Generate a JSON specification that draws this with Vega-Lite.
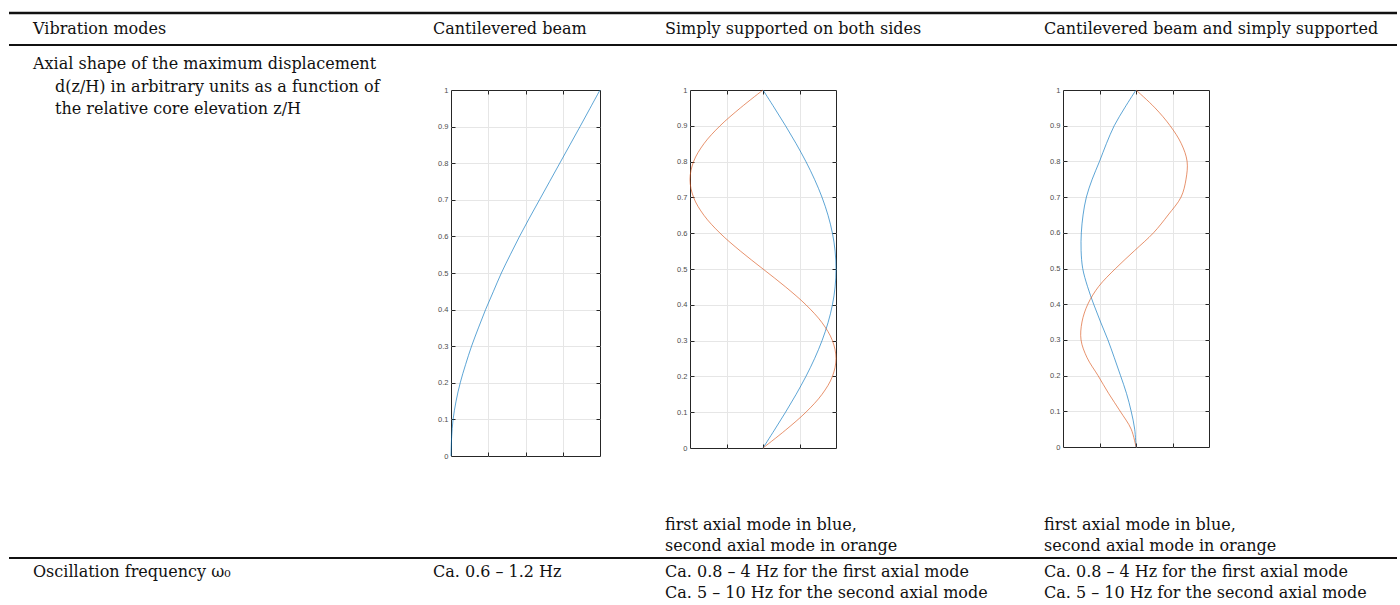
{
  "$schema": "https://vega.github.io/schema/vega-lite/v6.json",
  "background": "white",
  "padding": {"left": 7, "top": 11, "right": 5, "bottom": 0},
  "config": {"view": {"stroke": null}, "axis": {"title": null}},
  "columns": 10,
  "bounds": "flush",
  "align": "each",
  "spacing": 0,
  "datasets": {
    "e": [{}],
    "c1": [
      {"z":0,"d":0,"m":"first"},{"z":0.05,"d":0.004,"m":"first"},{"z":0.1,"d":0.014,"m":"first"},{"z":0.15,"d":0.034,"m":"first"},{"z":0.2,"d":0.062,"m":"first"},{"z":0.25,"d":0.098,"m":"first"},{"z":0.3,"d":0.138,"m":"first"},{"z":0.35,"d":0.184,"m":"first"},{"z":0.4,"d":0.232,"m":"first"},{"z":0.45,"d":0.285,"m":"first"},{"z":0.5,"d":0.338,"m":"first"},{"z":0.55,"d":0.398,"m":"first"},{"z":0.6,"d":0.46,"m":"first"},{"z":0.65,"d":0.526,"m":"first"},{"z":0.7,"d":0.594,"m":"first"},{"z":0.75,"d":0.662,"m":"first"},{"z":0.8,"d":0.73,"m":"first"},{"z":0.85,"d":0.798,"m":"first"},{"z":0.9,"d":0.866,"m":"first"},{"z":0.95,"d":0.933,"m":"first"},{"z":1,"d":1,"m":"first"}
    ],
    "c2": [
      {"z":0,"d":0,"m":"first"},{"z":0.05,"d":0.156,"m":"first"},{"z":0.1,"d":0.309,"m":"first"},{"z":0.15,"d":0.454,"m":"first"},{"z":0.2,"d":0.588,"m":"first"},{"z":0.25,"d":0.707,"m":"first"},{"z":0.3,"d":0.809,"m":"first"},{"z":0.35,"d":0.891,"m":"first"},{"z":0.4,"d":0.951,"m":"first"},{"z":0.45,"d":0.988,"m":"first"},{"z":0.5,"d":1,"m":"first"},{"z":0.55,"d":0.988,"m":"first"},{"z":0.6,"d":0.951,"m":"first"},{"z":0.65,"d":0.891,"m":"first"},{"z":0.7,"d":0.809,"m":"first"},{"z":0.75,"d":0.707,"m":"first"},{"z":0.8,"d":0.588,"m":"first"},{"z":0.85,"d":0.454,"m":"first"},{"z":0.9,"d":0.309,"m":"first"},{"z":0.95,"d":0.156,"m":"first"},{"z":1,"d":0,"m":"first"},
      {"z":0,"d":0,"m":"second"},{"z":0.05,"d":0.309,"m":"second"},{"z":0.1,"d":0.588,"m":"second"},{"z":0.15,"d":0.809,"m":"second"},{"z":0.2,"d":0.951,"m":"second"},{"z":0.25,"d":1,"m":"second"},{"z":0.3,"d":0.951,"m":"second"},{"z":0.35,"d":0.809,"m":"second"},{"z":0.4,"d":0.588,"m":"second"},{"z":0.45,"d":0.309,"m":"second"},{"z":0.5,"d":0,"m":"second"},{"z":0.55,"d":-0.309,"m":"second"},{"z":0.6,"d":-0.588,"m":"second"},{"z":0.65,"d":-0.809,"m":"second"},{"z":0.7,"d":-0.951,"m":"second"},{"z":0.75,"d":-1,"m":"second"},{"z":0.8,"d":-0.951,"m":"second"},{"z":0.85,"d":-0.809,"m":"second"},{"z":0.9,"d":-0.588,"m":"second"},{"z":0.95,"d":-0.309,"m":"second"},{"z":1,"d":0,"m":"second"}
    ],
    "c3": [
      {"z":0,"d":0,"m":"first"},{"z":0.05,"d":-0.018,"m":"first"},{"z":0.1,"d":-0.066,"m":"first"},{"z":0.15,"d":-0.13,"m":"first"},{"z":0.2,"d":-0.212,"m":"first"},{"z":0.25,"d":-0.297,"m":"first"},{"z":0.3,"d":-0.385,"m":"first"},{"z":0.35,"d":-0.485,"m":"first"},{"z":0.4,"d":-0.58,"m":"first"},{"z":0.45,"d":-0.665,"m":"first"},{"z":0.5,"d":-0.73,"m":"first"},{"z":0.55,"d":-0.752,"m":"first"},{"z":0.6,"d":-0.749,"m":"first"},{"z":0.65,"d":-0.725,"m":"first"},{"z":0.7,"d":-0.68,"m":"first"},{"z":0.75,"d":-0.6,"m":"first"},{"z":0.8,"d":-0.5,"m":"first"},{"z":0.85,"d":-0.405,"m":"first"},{"z":0.9,"d":-0.298,"m":"first"},{"z":0.95,"d":-0.155,"m":"first"},{"z":1,"d":0,"m":"first"},
      {"z":0,"d":0,"m":"second"},{"z":0.05,"d":-0.066,"m":"second"},{"z":0.1,"d":-0.216,"m":"second"},{"z":0.15,"d":-0.375,"m":"second"},{"z":0.2,"d":-0.52,"m":"second"},{"z":0.25,"d":-0.67,"m":"second"},{"z":0.3,"d":-0.753,"m":"second"},{"z":0.35,"d":-0.74,"m":"second"},{"z":0.4,"d":-0.66,"m":"second"},{"z":0.45,"d":-0.51,"m":"second"},{"z":0.5,"d":-0.28,"m":"second"},{"z":0.55,"d":-0.02,"m":"second"},{"z":0.6,"d":0.24,"m":"second"},{"z":0.65,"d":0.44,"m":"second"},{"z":0.7,"d":0.617,"m":"second"},{"z":0.75,"d":0.685,"m":"second"},{"z":0.8,"d":0.7,"m":"second"},{"z":0.85,"d":0.62,"m":"second"},{"z":0.9,"d":0.467,"m":"second"},{"z":0.95,"d":0.26,"m":"second"},{"z":1,"d":0,"m":"second"}
    ]
  },
  "concat": [
    {"width": 417, "height": 32, "data": {"values": [{"t": "Vibration modes"}]}, "layer": [
      {"mark": {"type": "rule", "strokeWidth": 2.5, "color": "#111"}, "encoding": {"y": {"datum": 1, "type": "quantitative", "scale": {"domain": [0, 1]}, "axis": null}}},
      {"mark": {"type": "rule", "strokeWidth": 2, "color": "#111"}, "encoding": {"y": {"datum": 0, "type": "quantitative", "scale": {"domain": [0, 1]}, "axis": null}}},
      {"mark": {"type": "text", "align": "left", "baseline": "middle", "dx": 24, "font": "DejaVu Serif", "fontSize": 16, "color": "#111"}, "encoding": {"x": {"datum": 0, "type": "quantitative", "scale": {"domain": [0, 1]}, "axis": null}, "y": {"datum": 0.5, "type": "quantitative", "scale": {"domain": [0, 1]}, "axis": null}, "text": {"field": "t"}}}]},
    {"width": 25, "height": 32, "data": {"values": [{"t": "Cantilevered beam"}]}, "layer": [
      {"mark": {"type": "rule", "strokeWidth": 2.5, "color": "#111"}, "encoding": {"y": {"datum": 1, "type": "quantitative", "scale": {"domain": [0, 1]}, "axis": null}}},
      {"mark": {"type": "rule", "strokeWidth": 2, "color": "#111"}, "encoding": {"y": {"datum": 0, "type": "quantitative", "scale": {"domain": [0, 1]}, "axis": null}}},
      {"mark": {"type": "text", "align": "left", "baseline": "middle", "dx": 7, "font": "DejaVu Serif", "fontSize": 16, "color": "#111"}, "encoding": {"x": {"datum": 0, "type": "quantitative", "scale": {"domain": [0, 1]}, "axis": null}, "y": {"datum": 0.5, "type": "quantitative", "scale": {"domain": [0, 1]}, "axis": null}, "text": {"field": "t"}}}]},
    {"width": 149, "height": 32, "data": {"name": "e"}, "layer": [
      {"mark": {"type": "rule", "strokeWidth": 2.5, "color": "#111"}, "encoding": {"y": {"datum": 1, "type": "quantitative", "scale": {"domain": [0, 1]}, "axis": null}}},
      {"mark": {"type": "rule", "strokeWidth": 2, "color": "#111"}, "encoding": {"y": {"datum": 0, "type": "quantitative", "scale": {"domain": [0, 1]}, "axis": null}}}]},
    {"width": 58, "height": 32, "data": {"name": "e"}, "layer": [
      {"mark": {"type": "rule", "strokeWidth": 2.5, "color": "#111"}, "encoding": {"y": {"datum": 1, "type": "quantitative", "scale": {"domain": [0, 1]}, "axis": null}}},
      {"mark": {"type": "rule", "strokeWidth": 2, "color": "#111"}, "encoding": {"y": {"datum": 0, "type": "quantitative", "scale": {"domain": [0, 1]}, "axis": null}}}]},
    {"width": 32, "height": 32, "data": {"values": [{"t": "Simply supported on both sides"}]}, "layer": [
      {"mark": {"type": "rule", "strokeWidth": 2.5, "color": "#111"}, "encoding": {"y": {"datum": 1, "type": "quantitative", "scale": {"domain": [0, 1]}, "axis": null}}},
      {"mark": {"type": "rule", "strokeWidth": 2, "color": "#111"}, "encoding": {"y": {"datum": 0, "type": "quantitative", "scale": {"domain": [0, 1]}, "axis": null}}},
      {"mark": {"type": "text", "align": "left", "baseline": "middle", "dx": 7, "font": "DejaVu Serif", "fontSize": 16, "color": "#111"}, "encoding": {"x": {"datum": 0, "type": "quantitative", "scale": {"domain": [0, 1]}, "axis": null}, "y": {"datum": 0.5, "type": "quantitative", "scale": {"domain": [0, 1]}, "axis": null}, "text": {"field": "t"}}}]},
    {"width": 146, "height": 32, "data": {"name": "e"}, "layer": [
      {"mark": {"type": "rule", "strokeWidth": 2.5, "color": "#111"}, "encoding": {"y": {"datum": 1, "type": "quantitative", "scale": {"domain": [0, 1]}, "axis": null}}},
      {"mark": {"type": "rule", "strokeWidth": 2, "color": "#111"}, "encoding": {"y": {"datum": 0, "type": "quantitative", "scale": {"domain": [0, 1]}, "axis": null}}}]},
    {"width": 201, "height": 32, "data": {"name": "e"}, "layer": [
      {"mark": {"type": "rule", "strokeWidth": 2.5, "color": "#111"}, "encoding": {"y": {"datum": 1, "type": "quantitative", "scale": {"domain": [0, 1]}, "axis": null}}},
      {"mark": {"type": "rule", "strokeWidth": 2, "color": "#111"}, "encoding": {"y": {"datum": 0, "type": "quantitative", "scale": {"domain": [0, 1]}, "axis": null}}}]},
    {"width": 26, "height": 32, "data": {"values": [{"t": "Cantilevered beam and simply supported"}]}, "layer": [
      {"mark": {"type": "rule", "strokeWidth": 2.5, "color": "#111"}, "encoding": {"y": {"datum": 1, "type": "quantitative", "scale": {"domain": [0, 1]}, "axis": null}}},
      {"mark": {"type": "rule", "strokeWidth": 2, "color": "#111"}, "encoding": {"y": {"datum": 0, "type": "quantitative", "scale": {"domain": [0, 1]}, "axis": null}}},
      {"mark": {"type": "text", "align": "left", "baseline": "middle", "dx": 7, "font": "DejaVu Serif", "fontSize": 16, "color": "#111"}, "encoding": {"x": {"datum": 0, "type": "quantitative", "scale": {"domain": [0, 1]}, "axis": null}, "y": {"datum": 0.5, "type": "quantitative", "scale": {"domain": [0, 1]}, "axis": null}, "text": {"field": "t"}}}]},
    {"width": 146, "height": 32, "data": {"name": "e"}, "layer": [
      {"mark": {"type": "rule", "strokeWidth": 2.5, "color": "#111"}, "encoding": {"y": {"datum": 1, "type": "quantitative", "scale": {"domain": [0, 1]}, "axis": null}}},
      {"mark": {"type": "rule", "strokeWidth": 2, "color": "#111"}, "encoding": {"y": {"datum": 0, "type": "quantitative", "scale": {"domain": [0, 1]}, "axis": null}}}]},
    {"width": 188, "height": 32, "data": {"name": "e"}, "layer": [
      {"mark": {"type": "rule", "strokeWidth": 2.5, "color": "#111"}, "encoding": {"y": {"datum": 1, "type": "quantitative", "scale": {"domain": [0, 1]}, "axis": null}}},
      {"mark": {"type": "rule", "strokeWidth": 2, "color": "#111"}, "encoding": {"y": {"datum": 0, "type": "quantitative", "scale": {"domain": [0, 1]}, "axis": null}}}]},

    {"width": 417, "height": 45, "data": {"values": [{"a": "Axial shape of the maximum displacement", "b": "d(z/H) in arbitrary units as a function of\nthe relative core elevation z/H"}]}, "layer": [
      {"mark": {"type": "text", "align": "left", "baseline": "alphabetic", "dx": 24, "dy": 24, "font": "DejaVu Serif", "fontSize": 16, "color": "#111"}, "encoding": {"x": {"datum": 0, "type": "quantitative", "scale": {"domain": [0, 1]}, "axis": null}, "y": {"datum": 1, "type": "quantitative", "scale": {"domain": [0, 1]}, "axis": null}, "text": {"field": "a"}}},
      {"mark": {"type": "text", "align": "left", "baseline": "alphabetic", "dx": 46, "dy": 47, "lineBreak": "\n", "lineHeight": 22, "font": "DejaVu Serif", "fontSize": 16, "color": "#111"}, "encoding": {"x": {"datum": 0, "type": "quantitative", "scale": {"domain": [0, 1]}, "axis": null}, "y": {"datum": 1, "type": "quantitative", "scale": {"domain": [0, 1]}, "axis": null}, "text": {"field": "b"}}}]},
    {"width": 25, "height": 45, "data": {"name": "e"}, "mark": {"type": "text", "text": ""}, "encoding": {}},
    {"width": 149, "height": 45, "data": {"name": "e"}, "mark": {"type": "text", "text": ""}, "encoding": {}},
    {"width": 58, "height": 45, "data": {"name": "e"}, "mark": {"type": "text", "text": ""}, "encoding": {}},
    {"width": 32, "height": 45, "data": {"name": "e"}, "mark": {"type": "text", "text": ""}, "encoding": {}},
    {"width": 146, "height": 45, "data": {"name": "e"}, "mark": {"type": "text", "text": ""}, "encoding": {}},
    {"width": 201, "height": 45, "data": {"name": "e"}, "mark": {"type": "text", "text": ""}, "encoding": {}},
    {"width": 26, "height": 45, "data": {"name": "e"}, "mark": {"type": "text", "text": ""}, "encoding": {}},
    {"width": 146, "height": 45, "data": {"name": "e"}, "mark": {"type": "text", "text": ""}, "encoding": {}},
    {"width": 188, "height": 45, "data": {"name": "e"}, "mark": {"type": "text", "text": ""}, "encoding": {}},

    {"width": 417, "height": 366, "data": {"name": "e"}, "mark": {"type": "text", "text": ""}, "encoding": {}},
    {"width": 25, "height": 366, "data": {"name": "e"}, "mark": {"type": "text", "text": ""}, "encoding": {}},
    {
      "width": 149, "height": 366,
      "data": {"name": "c1"},
      "view": {"stroke": "#262626", "strokeWidth": 1},
      "layer": [
        {"mark": {"type": "line", "strokeWidth": 0.8, "opacity": 0.8, "interpolate": "catmull-rom"},
         "encoding": {
           "x": {"field": "d", "type": "quantitative", "scale": {"domain": [0, 1], "nice": false, "zero": false},
                 "axis": {"orient": "bottom", "values": [0.25, 0.5, 0.75], "labels": false, "tickSize": -4, "tickColor": "#262626", "tickWidth": 1, "domain": false, "grid": true, "gridColor": "#e6e6e6", "gridWidth": 1, "title": null}},
           "y": {"field": "z", "type": "quantitative", "scale": {"domain": [0, 1], "nice": false, "zero": false},
                 "axis": {"orient": "left", "values": [0, 0.1, 0.2, 0.3, 0.4, 0.5, 0.6, 0.7, 0.8, 0.9, 1], "format": "~g", "ticks": false, "tickSize": 0, "labelPadding": 3, "labelFont": "Liberation Sans", "labelFontSize": 7.5, "labelColor": "#4d4d4d", "domain": false, "grid": false, "title": null}},
           "color": {"field": "m", "type": "nominal", "scale": {"domain": ["first", "second"], "range": ["#0072BD", "#D95319"]}, "legend": null},
           "order": {"field": "z", "type": "quantitative"}
         }},
        {"mark": {"type": "point", "opacity": 0},
         "encoding": {
           "x": {"field": "d", "type": "quantitative", "scale": {"domain": [0, 1], "nice": false, "zero": false},
                 "axis": {"orient": "top", "values": [0.25, 0.5, 0.75], "labels": false, "tickSize": -4, "tickColor": "#262626", "tickWidth": 1, "domain": false, "grid": false, "title": null}},
           "y": {"field": "z", "type": "quantitative", "scale": {"domain": [0, 1], "nice": false, "zero": false},
                 "axis": {"orient": "right", "values": [0.1, 0.2, 0.3, 0.4, 0.5, 0.6, 0.7, 0.8, 0.9], "labels": false, "tickSize": -4, "tickColor": "#262626", "tickWidth": 1, "domain": false, "grid": true, "gridColor": "#e6e6e6", "gridWidth": 1, "title": null}}
         }},
        {"mark": {"type": "point", "opacity": 0},
         "encoding": {
           "x": {"field": "d", "type": "quantitative", "scale": {"domain": [0, 1], "nice": false, "zero": false}, "axis": null},
           "y": {"field": "z", "type": "quantitative", "scale": {"domain": [0, 1], "nice": false, "zero": false},
                 "axis": {"orient": "left", "values": [0.1, 0.2, 0.3, 0.4, 0.5, 0.6, 0.7, 0.8, 0.9], "labels": false, "tickSize": -4, "tickColor": "#262626", "tickWidth": 1, "domain": false, "grid": false, "title": null}}
         }}
      ],
      "resolve": {"axis": {"x": "independent", "y": "independent"}}
    },
    {"width": 58, "height": 366, "data": {"name": "e"}, "mark": {"type": "text", "text": ""}, "encoding": {}},
    {"width": 32, "height": 366, "data": {"name": "e"}, "mark": {"type": "text", "text": ""}, "encoding": {}},
    {
      "width": 146, "height": 358,
      "data": {"name": "c2"},
      "view": {"stroke": "#262626", "strokeWidth": 1},
      "layer": [
        {"mark": {"type": "line", "strokeWidth": 0.8, "opacity": 0.8, "interpolate": "catmull-rom"},
         "encoding": {
           "x": {"field": "d", "type": "quantitative", "scale": {"domain": [-1, 1], "nice": false, "zero": false},
                 "axis": {"orient": "bottom", "values": [-0.5, 0, 0.5], "labels": false, "tickSize": -4, "tickColor": "#262626", "tickWidth": 1, "domain": false, "grid": true, "gridColor": "#e6e6e6", "gridWidth": 1, "title": null}},
           "y": {"field": "z", "type": "quantitative", "scale": {"domain": [0, 1], "nice": false, "zero": false},
                 "axis": {"orient": "left", "values": [0, 0.1, 0.2, 0.3, 0.4, 0.5, 0.6, 0.7, 0.8, 0.9, 1], "format": "~g", "ticks": false, "tickSize": 0, "labelPadding": 3, "labelFont": "Liberation Sans", "labelFontSize": 7.5, "labelColor": "#4d4d4d", "domain": false, "grid": false, "title": null}},
           "color": {"field": "m", "type": "nominal", "scale": {"domain": ["first", "second"], "range": ["#0072BD", "#D95319"]}, "legend": null},
           "order": {"field": "z", "type": "quantitative"}
         }},
        {"mark": {"type": "point", "opacity": 0},
         "encoding": {
           "x": {"field": "d", "type": "quantitative", "scale": {"domain": [-1, 1], "nice": false, "zero": false},
                 "axis": {"orient": "top", "values": [-0.5, 0, 0.5], "labels": false, "tickSize": -4, "tickColor": "#262626", "tickWidth": 1, "domain": false, "grid": false, "title": null}},
           "y": {"field": "z", "type": "quantitative", "scale": {"domain": [0, 1], "nice": false, "zero": false},
                 "axis": {"orient": "right", "values": [0.1, 0.2, 0.3, 0.4, 0.5, 0.6, 0.7, 0.8, 0.9], "labels": false, "tickSize": -4, "tickColor": "#262626", "tickWidth": 1, "domain": false, "grid": true, "gridColor": "#e6e6e6", "gridWidth": 1, "title": null}}
         }},
        {"mark": {"type": "point", "opacity": 0},
         "encoding": {
           "x": {"field": "d", "type": "quantitative", "scale": {"domain": [-1, 1], "nice": false, "zero": false}, "axis": null},
           "y": {"field": "z", "type": "quantitative", "scale": {"domain": [0, 1], "nice": false, "zero": false},
                 "axis": {"orient": "left", "values": [0.1, 0.2, 0.3, 0.4, 0.5, 0.6, 0.7, 0.8, 0.9], "labels": false, "tickSize": -4, "tickColor": "#262626", "tickWidth": 1, "domain": false, "grid": false, "title": null}}
         }}
      ],
      "resolve": {"axis": {"x": "independent", "y": "independent"}}
    },
    {"width": 201, "height": 366, "data": {"name": "e"}, "mark": {"type": "text", "text": ""}, "encoding": {}},
    {"width": 26, "height": 366, "data": {"name": "e"}, "mark": {"type": "text", "text": ""}, "encoding": {}},
    {
      "width": 146, "height": 357,
      "data": {"name": "c3"},
      "view": {"stroke": "#262626", "strokeWidth": 1},
      "layer": [
        {"mark": {"type": "line", "strokeWidth": 0.8, "opacity": 0.8, "interpolate": "catmull-rom"},
         "encoding": {
           "x": {"field": "d", "type": "quantitative", "scale": {"domain": [-1, 1], "nice": false, "zero": false},
                 "axis": {"orient": "bottom", "values": [-0.5, 0, 0.5], "labels": false, "tickSize": -4, "tickColor": "#262626", "tickWidth": 1, "domain": false, "grid": true, "gridColor": "#e6e6e6", "gridWidth": 1, "title": null}},
           "y": {"field": "z", "type": "quantitative", "scale": {"domain": [0, 1], "nice": false, "zero": false},
                 "axis": {"orient": "left", "values": [0, 0.1, 0.2, 0.3, 0.4, 0.5, 0.6, 0.7, 0.8, 0.9, 1], "format": "~g", "ticks": false, "tickSize": 0, "labelPadding": 3, "labelFont": "Liberation Sans", "labelFontSize": 7.5, "labelColor": "#4d4d4d", "domain": false, "grid": false, "title": null}},
           "color": {"field": "m", "type": "nominal", "scale": {"domain": ["first", "second"], "range": ["#0072BD", "#D95319"]}, "legend": null},
           "order": {"field": "z", "type": "quantitative"}
         }},
        {"mark": {"type": "point", "opacity": 0},
         "encoding": {
           "x": {"field": "d", "type": "quantitative", "scale": {"domain": [-1, 1], "nice": false, "zero": false},
                 "axis": {"orient": "top", "values": [-0.5, 0, 0.5], "labels": false, "tickSize": -4, "tickColor": "#262626", "tickWidth": 1, "domain": false, "grid": false, "title": null}},
           "y": {"field": "z", "type": "quantitative", "scale": {"domain": [0, 1], "nice": false, "zero": false},
                 "axis": {"orient": "right", "values": [0.1, 0.2, 0.3, 0.4, 0.5, 0.6, 0.7, 0.8, 0.9], "labels": false, "tickSize": -4, "tickColor": "#262626", "tickWidth": 1, "domain": false, "grid": true, "gridColor": "#e6e6e6", "gridWidth": 1, "title": null}}
         }},
        {"mark": {"type": "point", "opacity": 0},
         "encoding": {
           "x": {"field": "d", "type": "quantitative", "scale": {"domain": [-1, 1], "nice": false, "zero": false}, "axis": null},
           "y": {"field": "z", "type": "quantitative", "scale": {"domain": [0, 1], "nice": false, "zero": false},
                 "axis": {"orient": "left", "values": [0.1, 0.2, 0.3, 0.4, 0.5, 0.6, 0.7, 0.8, 0.9], "labels": false, "tickSize": -4, "tickColor": "#262626", "tickWidth": 1, "domain": false, "grid": false, "title": null}}
         }}
      ],
      "resolve": {"axis": {"x": "independent", "y": "independent"}}
    },
    {"width": 188, "height": 366, "data": {"name": "e"}, "mark": {"type": "text", "text": ""}, "encoding": {}},

    {"width": 417, "height": 102, "data": {"name": "e"}, "mark": {"type": "text", "text": ""}, "encoding": {}},
    {"width": 25, "height": 102, "data": {"name": "e"}, "mark": {"type": "text", "text": ""}, "encoding": {}},
    {"width": 149, "height": 102, "data": {"name": "e"}, "mark": {"type": "text", "text": ""}, "encoding": {}},
    {"width": 58, "height": 102, "data": {"name": "e"}, "mark": {"type": "text", "text": ""}, "encoding": {}},
    {"width": 32, "height": 102, "data": {"values": [{"t": "first axial mode in blue,\nsecond axial mode in orange"}]},
     "mark": {"type": "text", "align": "left", "baseline": "alphabetic", "dx": 7, "dy": 74, "lineBreak": "\n", "lineHeight": 21, "font": "DejaVu Serif", "fontSize": 16, "color": "#111"},
     "encoding": {"x": {"datum": 0, "type": "quantitative", "scale": {"domain": [0, 1]}, "axis": null}, "y": {"datum": 1, "type": "quantitative", "scale": {"domain": [0, 1]}, "axis": null}, "text": {"field": "t"}}},
    {"width": 146, "height": 102, "data": {"name": "e"}, "mark": {"type": "text", "text": ""}, "encoding": {}},
    {"width": 201, "height": 102, "data": {"name": "e"}, "mark": {"type": "text", "text": ""}, "encoding": {}},
    {"width": 26, "height": 102, "data": {"values": [{"t": "first axial mode in blue,\nsecond axial mode in orange"}]},
     "mark": {"type": "text", "align": "left", "baseline": "alphabetic", "dx": 7, "dy": 74, "lineBreak": "\n", "lineHeight": 21, "font": "DejaVu Serif", "fontSize": 16, "color": "#111"},
     "encoding": {"x": {"datum": 0, "type": "quantitative", "scale": {"domain": [0, 1]}, "axis": null}, "y": {"datum": 1, "type": "quantitative", "scale": {"domain": [0, 1]}, "axis": null}, "text": {"field": "t"}}},
    {"width": 146, "height": 102, "data": {"name": "e"}, "mark": {"type": "text", "text": ""}, "encoding": {}},
    {"width": 188, "height": 102, "data": {"name": "e"}, "mark": {"type": "text", "text": ""}, "encoding": {}},

    {"width": 417, "height": 48, "data": {"values": [{"t": "Oscillation frequency ω₀"}]}, "layer": [
      {"mark": {"type": "rule", "strokeWidth": 2, "color": "#111"}, "encoding": {"y": {"datum": 1, "type": "quantitative", "scale": {"domain": [0, 1]}, "axis": null}}},
      {"mark": {"type": "text", "align": "left", "baseline": "alphabetic", "dx": 24, "dy": 19, "font": "DejaVu Serif", "fontSize": 16, "color": "#111"}, "encoding": {"x": {"datum": 0, "type": "quantitative", "scale": {"domain": [0, 1]}, "axis": null}, "y": {"datum": 1, "type": "quantitative", "scale": {"domain": [0, 1]}, "axis": null}, "text": {"field": "t"}}}]},
    {"width": 25, "height": 48, "data": {"values": [{"t": "Ca. 0.6 – 1.2 Hz"}]}, "layer": [
      {"mark": {"type": "rule", "strokeWidth": 2, "color": "#111"}, "encoding": {"y": {"datum": 1, "type": "quantitative", "scale": {"domain": [0, 1]}, "axis": null}}},
      {"mark": {"type": "text", "align": "left", "baseline": "alphabetic", "dx": 7, "dy": 19, "font": "DejaVu Serif", "fontSize": 16, "color": "#111"}, "encoding": {"x": {"datum": 0, "type": "quantitative", "scale": {"domain": [0, 1]}, "axis": null}, "y": {"datum": 1, "type": "quantitative", "scale": {"domain": [0, 1]}, "axis": null}, "text": {"field": "t"}}}]},
    {"width": 149, "height": 48, "data": {"name": "e"}, "layer": [
      {"mark": {"type": "rule", "strokeWidth": 2, "color": "#111"}, "encoding": {"y": {"datum": 1, "type": "quantitative", "scale": {"domain": [0, 1]}, "axis": null}}}]},
    {"width": 58, "height": 48, "data": {"name": "e"}, "layer": [
      {"mark": {"type": "rule", "strokeWidth": 2, "color": "#111"}, "encoding": {"y": {"datum": 1, "type": "quantitative", "scale": {"domain": [0, 1]}, "axis": null}}}]},
    {"width": 32, "height": 48, "data": {"values": [{"t": "Ca. 0.8 – 4 Hz for the first axial mode\nCa. 5 – 10 Hz for the second axial mode"}]}, "layer": [
      {"mark": {"type": "rule", "strokeWidth": 2, "color": "#111"}, "encoding": {"y": {"datum": 1, "type": "quantitative", "scale": {"domain": [0, 1]}, "axis": null}}},
      {"mark": {"type": "text", "align": "left", "baseline": "alphabetic", "dx": 7, "dy": 19, "lineBreak": "\n", "lineHeight": 21, "font": "DejaVu Serif", "fontSize": 16, "color": "#111"}, "encoding": {"x": {"datum": 0, "type": "quantitative", "scale": {"domain": [0, 1]}, "axis": null}, "y": {"datum": 1, "type": "quantitative", "scale": {"domain": [0, 1]}, "axis": null}, "text": {"field": "t"}}}]},
    {"width": 146, "height": 48, "data": {"name": "e"}, "layer": [
      {"mark": {"type": "rule", "strokeWidth": 2, "color": "#111"}, "encoding": {"y": {"datum": 1, "type": "quantitative", "scale": {"domain": [0, 1]}, "axis": null}}}]},
    {"width": 201, "height": 48, "data": {"name": "e"}, "layer": [
      {"mark": {"type": "rule", "strokeWidth": 2, "color": "#111"}, "encoding": {"y": {"datum": 1, "type": "quantitative", "scale": {"domain": [0, 1]}, "axis": null}}}]},
    {"width": 26, "height": 48, "data": {"values": [{"t": "Ca. 0.8 – 4 Hz for the first axial mode\nCa. 5 – 10 Hz for the second axial mode"}]}, "layer": [
      {"mark": {"type": "rule", "strokeWidth": 2, "color": "#111"}, "encoding": {"y": {"datum": 1, "type": "quantitative", "scale": {"domain": [0, 1]}, "axis": null}}},
      {"mark": {"type": "text", "align": "left", "baseline": "alphabetic", "dx": 7, "dy": 19, "lineBreak": "\n", "lineHeight": 21, "font": "DejaVu Serif", "fontSize": 16, "color": "#111"}, "encoding": {"x": {"datum": 0, "type": "quantitative", "scale": {"domain": [0, 1]}, "axis": null}, "y": {"datum": 1, "type": "quantitative", "scale": {"domain": [0, 1]}, "axis": null}, "text": {"field": "t"}}}]},
    {"width": 146, "height": 48, "data": {"name": "e"}, "layer": [
      {"mark": {"type": "rule", "strokeWidth": 2, "color": "#111"}, "encoding": {"y": {"datum": 1, "type": "quantitative", "scale": {"domain": [0, 1]}, "axis": null}}}]},
    {"width": 188, "height": 48, "data": {"name": "e"}, "layer": [
      {"mark": {"type": "rule", "strokeWidth": 2, "color": "#111"}, "encoding": {"y": {"datum": 1, "type": "quantitative", "scale": {"domain": [0, 1]}, "axis": null}}}]}
  ]
}
